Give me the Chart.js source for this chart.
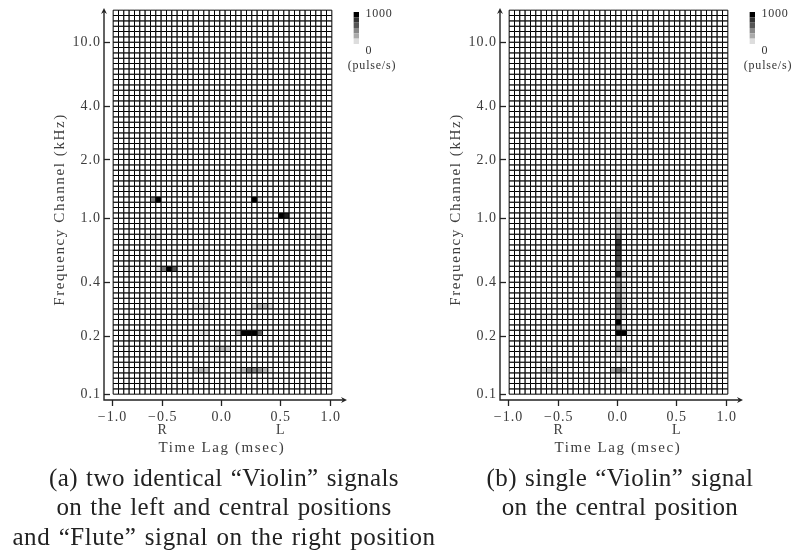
<!DOCTYPE html>
<html>
<head>
<meta charset="utf-8">
<script src="https://cdn.jsdelivr.net/npm/chart.js@4"></script>
<style>
  html, body { margin: 0; padding: 0; background: #fff; }
  body { position: relative; width: 800px; height: 553px; overflow: hidden; }
  canvas { position: absolute; top: 0; }
  .t { position: absolute; white-space: nowrap; transform: translate(-50%, -50%); color: #333;
       font-family: "Liberation Serif", serif; font-size: 12px; letter-spacing: 0.8px; }
  .cap { position: absolute; white-space: nowrap; transform: translate(-50%, -50%); color: #222;
         font-family: "Liberation Serif", serif; font-size: 25px; letter-spacing: 0.4px; word-spacing: 1.5px; }
</style>
</head>
<body>
<canvas id="chartA" style="left:0"></canvas>
<canvas id="chartB" style="left:396px"></canvas>

<div class="t" style="left:379px;top:13px">1000</div>
<div class="t" style="left:369px;top:50px">0</div>
<div class="t" style="left:372px;top:65px">(pulse/s)</div>
<div class="t" style="left:775px;top:13px">1000</div>
<div class="t" style="left:765px;top:50px">0</div>
<div class="t" style="left:768px;top:65px">(pulse/s)</div>

<div class="cap" style="left:224px;top:478px">(a) two identical “Violin” signals</div>
<div class="cap" style="left:224px;top:507px">on the left and central positions</div>
<div class="cap" style="left:224px;top:537px;letter-spacing:0.6px">and “Flute” signal on the right position</div>
<div class="cap" style="left:620px;top:478px">(b) single “Violin” signal</div>
<div class="cap" style="left:620px;top:507px">on the central position</div>

<script>
// grid size: delay columns x frequency channel rows
const lagCount = 41;
const channelCount = 72;

// ticks are not evenly spaced on this axis, values are in grid units
const lagTicks = [-0.62, 8.79, 19.85, 30.91, 40.29];
const lagLabels = ['−1.0', ['−0.5', 'R'], '0.0', ['0.5', 'L'], '1.0'];
const freqTicks = [65.53, 53.48, 43.41, 32.53, 20.4, 10.4, -0.47];
const freqLabels = ['10.0', '4.0', '2.0', '1.0', '0.4', '0.2', '0.1'];

const colorbarRates = [1000, 800, 667, 467, 333, 133];

// non zero cells as [row, column, pulse/s]
const violinFluteCells = [
  [36, 7, 500], [36, 8, 1000], [36, 26, 1000], [36, 27, 130],
  [33, 31, 1000], [33, 32, 870], [33, 33, 40], [32, 8, 70],
  [29, 6, 70], [29, 7, 120], [29, 8, 80], [29, 37, 120], [29, 38, 170], [29, 39, 70],
  [27, 26, 50], [27, 27, 60], [27, 28, 50],
  [23, 2, 70], [23, 3, 70], [23, 8, 130], [23, 9, 530], [23, 10, 1000], [23, 11, 670], [23, 12, 70],
  [23, 15, 60], [23, 16, 60], [23, 17, 90],
  [21, 23, 80], [21, 24, 100], [21, 25, 130], [21, 26, 100], [21, 27, 70],
  [20, 23, 70], [20, 25, 100], [19, 25, 60],
  [16, 15, 90], [16, 16, 130], [16, 17, 90], [16, 26, 130], [16, 27, 270], [16, 28, 270], [16, 29, 130],
  [11, 16, 80], [11, 17, 100], [11, 23, 330], [11, 24, 1000], [11, 25, 1000], [11, 26, 1000], [11, 27, 600],
  [8, 18, 60], [8, 19, 200], [8, 20, 270], [8, 21, 200],
  [4, 15, 200], [4, 16, 270], [4, 17, 200], [4, 22, 80], [4, 23, 130], [4, 24, 270], [4, 25, 530],
  [4, 26, 470], [4, 27, 400], [4, 28, 270], [4, 29, 70], [3, 25, 70]
];
const violinCells = [
  [34, 20, 200], [33, 20, 200], [32, 20, 200], [31, 20, 200], [30, 20, 270],
  [29, 20, 470], [28, 20, 800], [27, 20, 730], [26, 20, 730], [25, 20, 670], [24, 20, 670],
  [23, 20, 530], [22, 20, 870], [22, 21, 200], [22, 22, 70], [21, 20, 330], [20, 20, 400], [19, 20, 400],
  [18, 20, 470], [17, 20, 530], [16, 20, 530], [15, 20, 470], [14, 20, 400], [13, 20, 1000],
  [12, 20, 400], [11, 20, 1000], [11, 21, 1000], [11, 22, 130],
  [10, 20, 130], [9, 20, 130], [8, 20, 330], [8, 21, 130], [7, 20, 130],
  [4, 19, 330], [4, 20, 530], [4, 21, 270], [4, 22, 70], [3, 20, 130], [2, 20, 70],
  [20, 21, 130], [19, 21, 130], [18, 21, 130], [17, 21, 130], [16, 21, 130], [15, 21, 130], [14, 21, 130], [12, 21, 130],
  [4, 6, 130], [4, 7, 200], [4, 8, 130], [14, 6, 60], [14, 7, 60]
];

const cellSize = 16 / 3;
const axisColor = '#222';
const textColor = '#3c3c3c';
const axisFont = { family: '"Liberation Serif", serif', size: 14 };

function rateColor(rate) {
  const g = Math.round(255 * (1 - rate / 1000));
  return `rgb(${g},${g},${g})`;
}

function buildGrid(cells) {
  const rates = {};
  cells.forEach(c => { rates[c[0] + '_' + c[1]] = c[2]; });
  const points = [];
  const colors = [];
  for (let r = 0; r < channelCount; r++) {
    for (let c = 0; c < lagCount; c++) {
      points.push({ x: c, y: r });
      colors.push(rateColor(rates[r + '_' + c] || 0));
    }
  }
  return { points, colors };
}

// axis lines with arrow heads and the two axis titles
const axisDecor = {
  id: 'axisDecor',
  beforeDraw(chart) {
    chart.ctx.letterSpacing = '1px';
  },
  afterDraw(chart) {
    const { ctx, chartArea } = chart;
    const x0 = chartArea.left, y0 = chartArea.bottom, xEnd = 347, yEnd = chartArea.top;
    ctx.save();
    ctx.strokeStyle = axisColor;
    ctx.fillStyle = axisColor;
    ctx.lineWidth = 1.4;
    ctx.beginPath();
    ctx.moveTo(x0, yEnd + 2);
    ctx.lineTo(x0, y0);
    ctx.lineTo(xEnd - 2, y0);
    ctx.stroke();
    ctx.beginPath();
    ctx.moveTo(x0, yEnd - 1);
    ctx.lineTo(x0 - 3, yEnd + 5);
    ctx.lineTo(x0, yEnd + 3);
    ctx.lineTo(x0 + 3, yEnd + 5);
    ctx.closePath();
    ctx.moveTo(xEnd, y0);
    ctx.lineTo(xEnd - 6, y0 - 3);
    ctx.lineTo(xEnd - 4, y0);
    ctx.lineTo(xEnd - 6, y0 + 3);
    ctx.closePath();
    ctx.fill();

    ctx.fillStyle = textColor;
    ctx.font = '15px "Liberation Serif", serif';
    ctx.textAlign = 'center';
    ctx.textBaseline = 'middle';
    ctx.letterSpacing = '1.6px';
    ctx.fillText('Time Lag (msec)', 222, 448);
    ctx.translate(60, 209.5);
    ctx.rotate(-Math.PI / 2);
    ctx.fillText('Frequency Channel (kHz)', 0, 0);
    ctx.restore();
  }
};

function drawPanel(id, cells) {
  const grid = buildGrid(cells);
  const canvas = document.getElementById(id);
  canvas.width = 396;
  canvas.height = 553;
  return new Chart(canvas, {
    type: 'scatter',
    data: {
      datasets: [{
        data: grid.points,
        pointStyle: 'rect',
        pointRadius: cellSize / Math.SQRT2,
        pointBackgroundColor: grid.colors,
        pointBorderColor: '#000',
        pointBorderWidth: 1
      }, {
        data: colorbarRates.map((r, i) => ({ x: 45.09, y: 70.66 - i })),
        pointStyle: 'rect',
        pointRadius: cellSize / Math.SQRT2,
        pointBackgroundColor: colorbarRates.map(rateColor),
        pointBorderWidth: 0
      }]
    },
    options: {
      responsive: false,
      animation: false,
      events: [],
      layout: { autoPadding: false, padding: { top: 9, right: 34, bottom: 0, left: 0 } },
      plugins: { legend: { display: false }, tooltip: { enabled: false }, title: { display: false } },
      scales: {
        x: {
          type: 'linear',
          min: -2.219,
          max: 46.156,
          afterBuildTicks: s => { s.ticks = lagTicks.map(v => ({ value: v })); },
          afterFit: s => { s.height = 153; s.paddingLeft = 0; s.paddingRight = 0; },
          border: { display: false },
          grid: { drawOnChartArea: false, tickLength: 6, tickWidth: 1.3, tickColor: axisColor },
          ticks: {
            callback: (v, i) => lagLabels[i],
            font: { ...axisFont, lineHeight: 0.98 },
            color: textColor,
            padding: 4,
            autoSkip: false,
            maxRotation: 0,
            minRotation: 0
          }
        },
        y: {
          type: 'linear',
          min: -1.594,
          max: 71.72,
          afterBuildTicks: s => { s.ticks = freqTicks.map(v => ({ value: v })); },
          afterFit: s => { s.width = 104; s.paddingTop = 0; s.paddingBottom = 0; },
          border: { display: false },
          grid: { drawOnChartArea: false, tickLength: -6, tickWidth: 1.3, tickColor: axisColor },
          ticks: {
            callback: (v, i) => freqLabels[i],
            font: axisFont,
            color: textColor,
            padding: 9,
            autoSkip: false
          }
        }
      }
    },
    plugins: [axisDecor]
  });
}

drawPanel('chartA', violinFluteCells);
drawPanel('chartB', violinCells);
</script>
</body>
</html>
